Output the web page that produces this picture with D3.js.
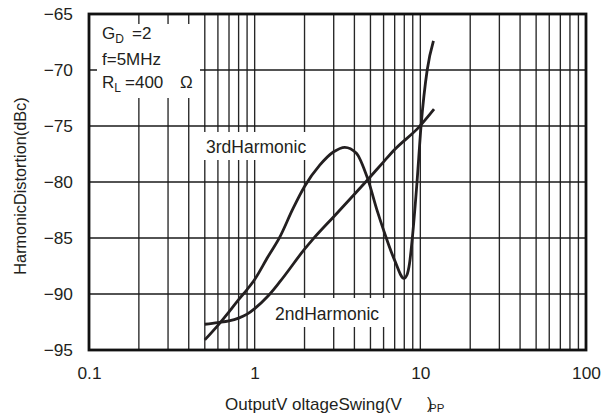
<!DOCTYPE html>
<html>
<head>
<meta charset="utf-8">
<script src="https://cdn.jsdelivr.net/npm/d3@7"></script>
<style>
  html, body { margin: 0; padding: 0; background: #fff; }
  svg { display: block; font-family: "Liberation Sans", Arial, Helvetica, sans-serif; }
</style>
</head>
<body>
<svg id="chart" width="613" height="414"></svg>
<script>
// Output voltage swing (Vpp) and harmonic distortion (dBc)
const voltage3rd = [0.5, 0.6, 0.7, 0.8, 0.9, 1.0, 1.2, 1.42, 1.7, 2.0, 2.47, 3.0, 3.5, 4.1, 4.81, 5.5, 6.0, 7.0, 7.96, 8.3, 8.6, 9.0, 9.55, 10.1, 11.0, 12.0];
const thd3rd     = [-94.1, -92.8, -91.6, -90.5, -89.6, -88.7, -86.7, -84.9, -82.4, -80.4, -78.5, -77.3, -76.9, -77.4, -79.7, -82.6, -84.3, -87.0, -88.6, -88.3, -87.3, -84.6, -80.0, -75.0, -70.0, -67.4];

const voltage2nd = [0.5, 0.6, 0.7, 0.8, 0.9, 1.0, 1.2, 1.42, 2.0, 2.25, 3.0, 4.0, 4.81, 6.0, 7.0, 9.81, 12.1];
const thd2nd     = [-92.7, -92.55, -92.4, -92.15, -91.8, -91.3, -90.2, -88.9, -86.0, -85.1, -83.1, -81.1, -79.8, -78.2, -77.1, -75.1, -73.5];

const xTickValues = [0.1, 1, 10, 100];
const xTickLabels = ["0.1", "1", "10", "100"];
const yTickValues = [-95, -90, -85, -80, -75, -70, -65];

const svg = d3.select("#chart");
const plotLeft = 89, plotRight = 586, plotTop = 14, plotBottom = 350;

const x = d3.scaleLog().domain([0.1, 100]).range([plotLeft, plotRight]);
const y = d3.scaleLinear().domain([-95, -65]).range([plotBottom, plotTop]);

const ink = "#231f20";

// Grid: every 1..9 step of each decade, plus every 5 dB
const gridX = x.ticks().filter(v => v > 0.1 + 1e-9 && v < 100 - 1e-9);
svg.append("g").selectAll("line").data(gridX).join("line")
  .attr("x1", d => x(d)).attr("x2", d => x(d))
  .attr("y1", plotTop).attr("y2", plotBottom)
  .attr("stroke", "#262626").attr("stroke-width", 1.35);

const gridY = yTickValues.filter(v => v > -95 && v < -65);
svg.append("g").selectAll("line").data(gridY).join("line")
  .attr("x1", plotLeft).attr("x2", plotRight)
  .attr("y1", d => y(d)).attr("y2", d => y(d))
  .attr("stroke", "#1a1a1a").attr("stroke-width", 1.45);

// White panels behind the annotations
const panels = [
  { x0: 97, x1: 200, y0: 24, y1: 98 },
  { x0: 200, x1: 316, y0: 132, y1: 160 },
  { x0: 266, x1: 385, y0: 298, y1: 327 }
];
svg.append("g").selectAll("rect").data(panels).join("rect")
  .attr("x", d => d.x0).attr("y", d => d.y0)
  .attr("width", d => d.x1 - d.x0).attr("height", d => d.y1 - d.y0)
  .attr("fill", "#fff");

// Curves
const line = d3.line()
  .x(d => x(d[0])).y(d => y(d[1]))
  .curve(d3.curveMonotoneX);

const series = [
  d3.zip(voltage3rd, thd3rd),
  d3.zip(voltage2nd, thd2nd)
];
svg.append("g").selectAll("path").data(series).join("path")
  .attr("d", line)
  .attr("fill", "none")
  .attr("stroke", ink)
  .attr("stroke-width", 2.8)
  .attr("stroke-linejoin", "round")
  .attr("stroke-linecap", "butt");

// Frame
svg.append("rect")
  .attr("x", plotLeft).attr("y", plotTop)
  .attr("width", plotRight - plotLeft).attr("height", plotBottom - plotTop)
  .attr("fill", "none").attr("stroke", "#111").attr("stroke-width", 2.8);

// Axes (labels only)
const xAxis = d3.axisBottom(x)
  .tickValues(xTickValues)
  .tickFormat((d, i) => xTickLabels[i])
  .tickSize(0).tickPadding(17);
const gx = svg.append("g").attr("transform", `translate(0,${plotBottom})`).call(xAxis);

const yAxis = d3.axisLeft(y)
  .tickValues(yTickValues)
  .tickFormat(d3.format("d"))
  .tickSize(0).tickPadding(16);
const gy = svg.append("g").attr("transform", `translate(${plotLeft},0)`).call(yAxis);

[gx, gy].forEach(g => {
  g.select(".domain").remove();
  g.selectAll("text")
    .attr("fill", ink)
    .style("font-size", "17.3px")
    .style("font-family", "'Liberation Sans', Arial, Helvetica, sans-serif");
});

// Axis titles
svg.append("text")
  .attr("transform", "translate(26,186) rotate(-90)")
  .attr("text-anchor", "middle")
  .attr("fill", ink)
  .style("font-size", "16.3px")
  .text("HarmonicDistortion(dBc)");

svg.append("text")
  .attr("x", 225).attr("y", 410)
  .attr("fill", ink)
  .style("font-size", "17px")
  .text("OutputV oltageSwing(V");
svg.append("text")
  .attr("x", 427).attr("y", 409)
  .attr("fill", ink)
  .style("font-size", "16px")
  .text(")");
svg.append("text")
  .attr("x", 429).attr("y", 412)
  .attr("fill", ink)
  .style("font-size", "11.5px")
  .text("PP");

// Test conditions
const cond = svg.append("g").attr("fill", ink).style("font-size", "17px");
const g1 = cond.append("text").attr("x", 102).attr("y", 39);
g1.append("tspan").text("G");
g1.append("tspan").attr("dy", 4).style("font-size", "12px").text("D");
g1.append("tspan").attr("x", 132).attr("dy", -4).text("=2");

cond.append("text").attr("x", 102).attr("y", 65).text("f=5MHz");

const g3 = cond.append("text").attr("x", 102).attr("y", 88);
g3.append("tspan").text("R");
g3.append("tspan").attr("dy", 4).style("font-size", "12px").text("L");
g3.append("tspan").attr("x", 125).attr("dy", -4).text("=400");
g3.append("tspan").attr("x", 180).text("Ω");

// Series labels
svg.append("text").attr("x", 206).attr("y", 153)
  .attr("fill", ink).style("font-size", "17.5px").text("3rdHarmonic");
svg.append("text").attr("x", 275).attr("y", 320)
  .attr("fill", ink).style("font-size", "17.5px").text("2ndHarmonic");
</script>
</body>
</html>
